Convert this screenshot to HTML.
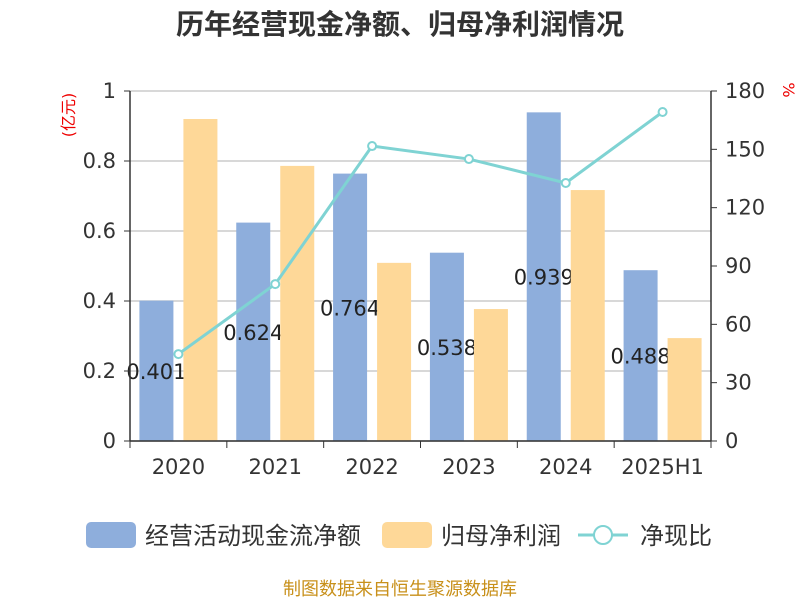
<!DOCTYPE html>
<html><head><meta charset="utf-8"><style>
body{margin:0;background:#fff;}
svg{display:block;font-family:"DejaVu Sans","Noto Sans CJK SC",sans-serif;}
</style></head><body>
<svg id="chart" width="800" height="600">
<text x="400" y="34" text-anchor="middle" font-size="28" font-weight="bold" fill="#333" font-family="Liberation Sans,Noto Sans CJK SC,sans-serif">历年经营现金净额、归母净利润情况</text>
<text transform="translate(74,115) rotate(-90)" text-anchor="middle" font-size="16" fill="#e00">(亿元)</text>
<text transform="translate(783,90) rotate(90)" text-anchor="middle" font-size="16" fill="#e00">%</text>
<g id="grid"></g><g id="bars"></g><g id="axes"></g>
<g>
<rect x="86" y="522" width="50" height="26" rx="5" fill="#8eaedc"/>
<text x="145" y="544" font-size="24" fill="#333" font-family="Liberation Sans,Noto Sans CJK SC,sans-serif">经营活动现金流净额</text>
<rect x="382" y="522" width="50" height="26" rx="5" fill="#fed898"/>
<text x="441" y="544" font-size="24" fill="#333" font-family="Liberation Sans,Noto Sans CJK SC,sans-serif">归母净利润</text>
<line x1="578" y1="535" x2="628" y2="535" stroke="#7fd3d3" stroke-width="3"/>
<circle cx="603" cy="535" r="9" fill="#fff" stroke="#7fd3d3" stroke-width="2"/>
<text x="640" y="544" font-size="24" fill="#333" font-family="Liberation Sans,Noto Sans CJK SC,sans-serif">净现比</text>
</g>
<text x="400" y="595" text-anchor="middle" font-size="18" fill="#c8901a" font-family="Liberation Sans,Noto Sans CJK SC,sans-serif">制图数据来自恒生聚源数据库</text>
</svg>
<script>
const categories=["2020","2021","2022","2023","2024","2025H1"];
const cashFlow=[0.401,0.624,0.764,0.538,0.939,0.488];
const netProfit=[0.92,0.786,0.509,0.377,0.717,0.294];
const ratio=[44.7,80.7,151.7,145,132.7,169.2];
const leftTicks=[0,0.2,0.4,0.6,0.8,1];
const rightTicks=[0,30,60,90,120,150,180];
const NS="http://www.w3.org/2000/svg";
const X0=130,X1=711,Y0=441,Y1=91,bw=(X1-X0)/categories.length;
const yL=v=>Y0-(v/1)*(Y0-Y1), yR=v=>Y0-(v/180)*(Y0-Y1), xc=i=>X0+bw*(i+0.5);
function mk(p,t,a){const e=document.createElementNS(NS,t);for(const k in a)e.setAttribute(k,a[k]);p.appendChild(e);return e;}
const grid=document.getElementById('grid'),bars=document.getElementById('bars'),axes=document.getElementById('axes');
leftTicks.forEach(t=>{
 const l=mk(grid,'line',{x1:X0,x2:X1,y1:yL(t),y2:yL(t),stroke:'#ccc','stroke-width':1.5});
 
 
 const tx=mk(axes,'text',{x:X0-14,y:yL(t)+7,'text-anchor':'end','font-size':21,fill:'#333'});tx.textContent=t;
 
 
 mk(axes,'line',{x1:X0-6,x2:X0,y1:yL(t),y2:yL(t),stroke:'#333'});
});
rightTicks.forEach(t=>{
 const tx=mk(axes,'text',{x:X1+14,y:yR(t)+7,'font-size':21,fill:'#333'});tx.textContent=t;
 
 
 mk(axes,'line',{x1:X1,x2:X1+6,y1:yR(t),y2:yR(t),stroke:'#333'});
});
mk(axes,'line',{x1:X0,x2:X0,y1:Y1,y2:Y0,stroke:'#333','stroke-width':1.5});
mk(axes,'line',{x1:X1,x2:X1,y1:Y1,y2:Y0,stroke:'#333','stroke-width':1.5});
mk(axes,'line',{x1:X0,x2:X1,y1:Y0,y2:Y0,stroke:'#333','stroke-width':1.5});
categories.forEach((c,i)=>{
 mk(axes,'line',{x1:X0+bw*i,x2:X0+bw*i,y1:Y0,y2:Y0+7,stroke:'#333'});
 if(i==categories.length-1)mk(axes,'line',{x1:X1,x2:X1,y1:Y0,y2:Y0+7,stroke:'#333'});
 const tx=mk(axes,'text',{x:xc(i),y:474,'text-anchor':'middle','font-size':21,fill:'#333'});tx.textContent=c;
 
 
});
categories.forEach((c,i)=>{
 const b=mk(bars,'rect',{x:xc(i)-39,y:yL(cashFlow[i]),width:34,height:Y0-yL(cashFlow[i]),fill:'#8eaedc'});
 
 
 const t=mk(bars,'text',{x:xc(i)-22,y:(yL(cashFlow[i])+Y0)/2+8,'text-anchor':'middle','font-size':21,fill:'#222'});t.textContent=cashFlow[i];
 
 
});
categories.forEach((c,i)=>{
 const b=mk(bars,'rect',{x:xc(i)+5,y:yL(netProfit[i]),width:34,height:Y0-yL(netProfit[i]),fill:'#fed898'});
 
 
});
const pl=mk(bars,'polyline',{points:ratio.map((v,i)=>xc(i)+','+yR(v)).join(' '),fill:'none',stroke:'#7fd3d3','stroke-width':3});


ratio.forEach((v,i)=>{
 const p=mk(bars,'circle',{cx:xc(i),cy:yR(v),r:4,fill:'#fff',stroke:'#7fd3d3','stroke-width':2});
 
 
});
</script>
</body></html>
